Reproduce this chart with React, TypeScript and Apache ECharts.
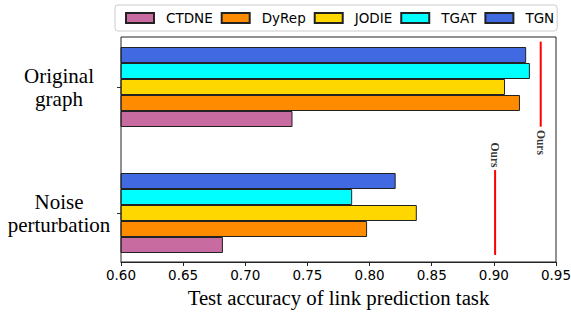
import React, { useEffect, useRef } from "react";
import * as echarts from "echarts";

const categories = ["Noise\nperturbation", "Original\ngraph"];
const models = ["CTDNE", "DyRep", "JODIE", "TGAT", "TGN"];
const colors = ["#c86ba0", "#ff8c00", "#ffd700", "#00ffff", "#4169e1"];
// values per model: [Noise perturbation, Original graph]
const ctdne = [0.682, 0.738];
const dyrep = [0.798, 0.921];
const jodie = [0.838, 0.909];
const tgat = [0.786, 0.929];
const tgn = [0.821, 0.926];
const modelValues = [ctdne, dyrep, jodie, tgat, tgn];

// "Ours" reference lines: [x, yStart, yEnd] in category-index units
const oursOriginal = [0.9377, 1.36, 0.685];
const oursNoise = [0.901, 0.341, -0.333];
// "Ours" label positions [x, y]
const oursLabels = [
  [0.9377, 0.56],
  [0.901, 0.46],
];

export default function App() {
  const ref = useRef<HTMLDivElement>(null);
  useEffect(() => {
    if (!ref.current) return;
    const chart = echarts.init(ref.current, null, { renderer: "svg" });
    const barSeries = models
      .map((m, i) => ({
        name: m,
        type: "bar",
        xAxisIndex: 0,
        yAxisIndex: 0,
        data: modelValues[i],
        barWidth: 16,
        barGap: "0%",
        itemStyle: { color: colors[i], borderColor: "#222", borderWidth: 1 },
      }))
      .reverse();
    chart.setOption({
      animation: false,
      legend: {
        data: models,
        left: 115,
        top: 5,
        padding: [6, 3, 6, 10],
        itemWidth: 28,
        itemHeight: 10,
        itemGap: 8,
        borderColor: "#cccccc",
        borderWidth: 1,
        borderRadius: 3,
        icon: "rect",
        textStyle: {
          fontFamily: "DejaVu Sans",
          fontSize: 13.5,
          color: "#000",
          padding: [0, 0, 0, 7],
        },
      },
      grid: {
        left: 121,
        right: 15,
        top: 24,
        bottom: 36,
        outerBoundsMode: "none",
      },
      xAxis: [
        {
          type: "value",
          min: 0.6,
          max: 0.95,
          interval: 0.05,
          offset: -14,
          splitLine: { show: false },
          axisLine: { show: true, onZero: false, lineStyle: { color: "#222" } },
          axisTick: { show: true, length: 4, lineStyle: { color: "#222" } },
          axisLabel: {
            fontFamily: "DejaVu Sans",
            fontSize: 13.5,
            color: "#000",
            margin: 6,
            formatter: (v: number) => v.toFixed(2),
          },
          name: "Test accuracy of link prediction task",
          nameLocation: "middle",
          nameGap: 7,
          nameTextStyle: {
            fontFamily: "Liberation Serif",
            fontSize: 20.8,
            color: "#000",
          },
        },
      ],
      yAxis: [
        {
          type: "category",
          data: categories,
          axisLine: { show: false },
          axisTick: {
            show: true,
            alignWithLabel: true,
            length: 4,
            lineStyle: { color: "#333" },
          },
          axisLabel: {
            fontFamily: "Liberation Serif",
            fontSize: 21,
            lineHeight: 23,
            color: "#000",
            align: "center",
            margin: 62,
          },
        },
        {
          type: "value",
          min: -0.5,
          max: 1.5,
          show: false,
          axisLine: { onZero: false },
          splitLine: { show: false },
        },
      ],
      graphic: [
        {
          type: "rect",
          shape: { x: 121, y: 37, width: 435, height: 225 },
          style: { fill: "none", stroke: "#222", lineWidth: 1 },
          silent: true,
          z: 100,
        },
      ],
      series: [
        ...barSeries,
        {
          name: "oursOriginal",
          type: "line",
          xAxisIndex: 0,
          yAxisIndex: 1,
          symbol: "none",
          data: [
            [oursOriginal[0], oursOriginal[1]],
            [oursOriginal[0], oursOriginal[2]],
          ],
          lineStyle: { color: "#ff0000", width: 2 },
          silent: true,
        },
        {
          name: "oursNoise",
          type: "line",
          xAxisIndex: 0,
          yAxisIndex: 1,
          symbol: "none",
          data: [
            [oursNoise[0], oursNoise[1]],
            [oursNoise[0], oursNoise[2]],
          ],
          lineStyle: { color: "#ff0000", width: 2 },
          silent: true,
        },
        {
          name: "oursLabels",
          type: "scatter",
          xAxisIndex: 0,
          yAxisIndex: 1,
          symbolSize: 1,
          itemStyle: { color: "rgba(0,0,0,0)" },
          data: oursLabels,
          label: {
            show: true,
            position: "inside",
            formatter: "Ours",
            rotate: -90,
            fontFamily: "Liberation Serif",
            fontWeight: "bold",
            fontSize: 11.5,
            color: "#000",
          },
          silent: true,
        },
      ],
    });
    return () => chart.dispose();
  }, []);
  return (
    <div
      ref={ref}
      style={{ position: "absolute", left: 0, top: 0, width: 571, height: 312 }}
    />
  );
}
